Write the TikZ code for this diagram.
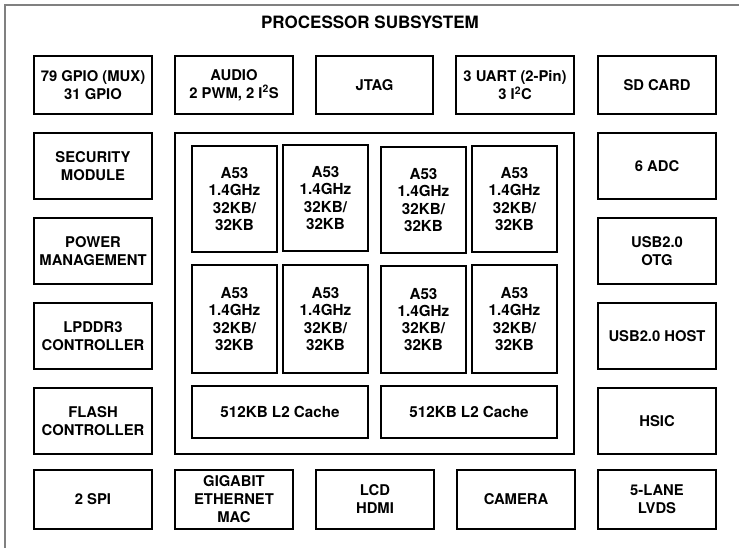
\documentclass[tikz,border=0pt]{standalone}
\usepackage{fontspec}
\setmainfont{TeX Gyre Heros}
\newcommand\blkbox[6]{\node[blk, minimum width={#4-#2}, minimum height={#5-#3}] (#1) at ({(#2+#4)/2},{(#3+#5)/2}) {#6};}
\newcommand\supt[1]{\textsuperscript{#1}}
\begin{document}
\begin{tikzpicture}[x=1pt,y=-1pt,
  blk/.style={draw=black, line width=1.8pt, align=center, inner sep=0pt,
    font=\fontsize{14.8}{18}\selectfont\bfseries},
  core/.style={font=\fontsize{15.2}{17.3}\selectfont\bfseries},
  frame/.style={draw=black!50, line width=1.4pt},
  titletext/.style={font=\fontsize{17}{20}\selectfont\bfseries}
]
\useasboundingbox (0,0) rectangle (739,548);
\draw[frame] (5,548) -- (5,5) -- (739,5);
\node[titletext] (title) at (370,22) {PROCESSOR SUBSYSTEM};
% top row
\blkbox{gpio}{34}{56}{152}{114}{79 GPIO (MUX)\\31 GPIO}
\blkbox{audio}{175}{56}{293}{114}{AUDIO\\2 PWM, 2 I\supt{2}S}
\blkbox{jtag}{316}{56}{433}{114}{JTAG}
\blkbox{uart}{456}{56}{574}{114}{3 UART (2-Pin)\\3 I\supt{2}C}
\blkbox{sd}{598}{56}{716}{114}{SD CARD}
% left column
\blkbox{sec}{34}{133}{152}{199}{SECURITY\\MODULE}
\blkbox{pwr}{34}{218}{152}{284}{POWER\\MANAGEMENT}
\blkbox{ddr}{34}{303}{152}{369}{LPDDR3\\CONTROLLER}
\blkbox{flash}{34}{388}{152}{454}{FLASH\\CONTROLLER}
% right column
\blkbox{adc}{598}{133}{716}{199}{6 ADC}
\blkbox{otg}{598}{218}{716}{284}{USB2.0\\OTG}
\blkbox{host}{598}{303}{716}{369}{USB2.0 HOST}
\blkbox{hsic}{598}{388}{716}{454}{HSIC}
% bottom row
\blkbox{spi}{34}{470}{152}{529}{2 SPI}
\blkbox{eth}{175}{470}{293}{529}{GIGABIT\\ETHERNET\\MAC}
\blkbox{lcd}{316}{470}{434}{529}{LCD\\HDMI}
\blkbox{cam}{457}{470}{575}{529}{CAMERA}
\blkbox{lvds}{598}{470}{716}{529}{5-LANE\\LVDS}
% processor cluster
\blkbox{cpu}{175}{133}{574}{454}{}
\tikzset{blk/.append style={core}}
\blkbox{c1}{192}{146}{277}{252}{A53\\1.4GHz\\32KB/\\32KB}
\blkbox{c2}{283}{145}{368}{251}{A53\\1.4GHz\\32KB/\\32KB}
\blkbox{c3}{381}{147}{466}{253}{A53\\1.4GHz\\32KB/\\32KB}
\blkbox{c4}{472}{146}{557}{252}{A53\\1.4GHz\\32KB/\\32KB}
\blkbox{c5}{192}{265}{277}{373}{A53\\1.4GHz\\32KB/\\32KB}
\blkbox{c6}{283}{265}{368}{373}{A53\\1.4GHz\\32KB/\\32KB}
\blkbox{c7}{381}{266}{466}{373}{A53\\1.4GHz\\32KB/\\32KB}
\blkbox{c8}{472}{265}{557}{373}{A53\\1.4GHz\\32KB/\\32KB}
\blkbox{l2a}{192}{386}{368}{438}{512KB L2 Cache}
\blkbox{l2b}{381}{386}{557}{438}{512KB L2 Cache}
\end{tikzpicture}
\end{document}
